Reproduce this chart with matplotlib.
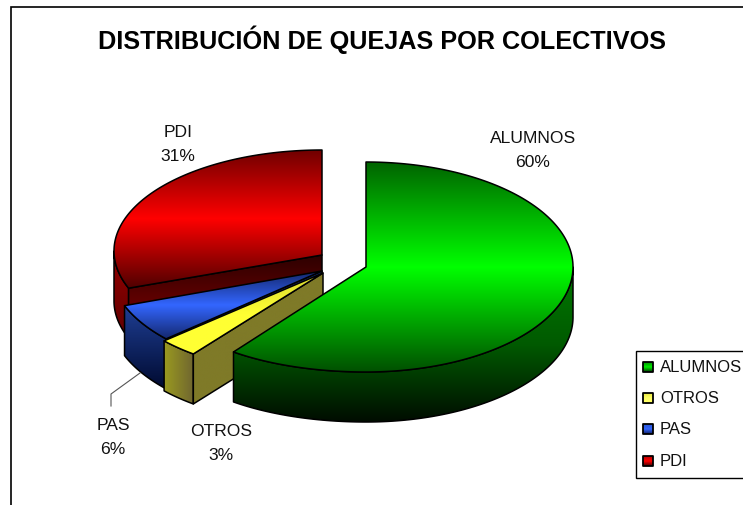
import numpy as np
import matplotlib
matplotlib.use("Agg")
import matplotlib.pyplot as plt
from matplotlib.colors import LinearSegmentedColormap
from matplotlib.patches import Polygon, Rectangle

plt.rcParams["font.family"] = ["Liberation Sans", "DejaVu Sans"]

titulo = "DISTRIBUCIÓN DE QUEJAS POR COLECTIVOS"
colectivos = ["ALUMNOS", "OTROS", "PAS", "PDI"]
porcentajes = [60, 3, 6, 31]

# pie geometry in pixels: rim centre x, y, radius x, radius y, left side stretch
DEPTH = 50
rims = {
    "ALUMNOS": (366, 268, 207, 105, 0.11),
    "OTROS": (315, 270, 207, 105, 0),
    "PAS": (317, 268, 207, 105, 0),
    "PDI": (322, 252, 208, 101, 0),
}
apices = {"ALUMNOS": (366, 268), "OTROS": (323, 274), "PAS": (322, 272), "PDI": (322, 256)}
etiquetas = {"ALUMNOS": (533, 150.5), "OTROS": (221, 443.5), "PAS": (113, 437.5), "PDI": (178, 144.5)}

top_cols = {
    "ALUMNOS": ["#006400", "#00ff00", "#005000"],
    "OTROS": ["#d8d830", "#ffff33", "#ffff33"],
    "PAS": ["#14286e", "#3366ff", "#14286e"],
    "PDI": ["#6e0000", "#ff0000", "#500000"],
}
side_cols = {
    "ALUMNOS": ["#007800", "#005a00", "#000c00"],
    "OTROS": ["#9a9a20", "#6f6530"],
    "PAS": ["#1f3f95", "#000a30"],
    "PDI": ["#950000", "#600000"],
}
cut_cols = {
    "OTROS": ["#7f7a28", "#7f7a28"],
    "PAS": ["#14286e", "#22408f"],
    "PDI": ["#2c0000", "#8a0000"],
}
leyenda_cols = {
    "ALUMNOS": ["#009000", "#00ee00", "#003000"],
    "OTROS": ["#e8e840", "#ffff66", "#ffff66"],
    "PAS": ["#2a55d0", "#3366ff", "#101f60"],
    "PDI": ["#b00000", "#ff0000", "#400000"],
}


def rim(nombre, a0, a1):
    # angles are clockwise from 12 o'clock, in degrees
    cx, cy, rx, ry, k = rims[nombre]
    t = np.radians(np.linspace(a0, a1, max(int(abs(a1 - a0)) * 2, 2)))
    sx = np.sin(t) * (1 + k * np.clip(-np.cos(t), 0, None) * (np.sin(t) < 0))
    return np.column_stack([cx + rx * sx, cy - ry * np.cos(t)])


def shade(ax, verts, colors, horizontal=False, zorder=1, lw=1.1):
    verts = np.asarray(verts)
    patch = Polygon(verts, closed=True, facecolor="none", edgecolor="black", lw=lw,
                    joinstyle="round", zorder=zorder + 0.5)
    ax.add_patch(patch)
    grad = np.linspace(0, 1, 256).reshape(-1, 1)
    if horizontal:
        grad = grad.T
    x0, y0 = verts.min(axis=0)
    x1, y1 = verts.max(axis=0)
    cmap = LinearSegmentedColormap.from_list("g", colors)
    im = ax.imshow(grad, cmap=cmap, extent=(x0, x1, y1, y0), aspect="auto",
                   interpolation="bilinear", zorder=zorder)
    im.set_clip_path(patch)


fig = plt.figure(figsize=(7.43, 5.06), dpi=100)
ax = fig.add_axes([0, 0, 1, 1])

# chart frame runs off the right and bottom of the picture
ax.add_patch(Rectangle((11, 8), 800, 600, facecolor="white", edgecolor="black", lw=1.2))

limites = np.concatenate([[0], np.cumsum(porcentajes)]) * 3.6
dibujo = [3, 2, 1, 0]  # back to front
z = 2
for i in dibujo:
    nombre = colectivos[i]
    c = np.array(apices[nombre], dtype=float)
    a0, a1 = limites[i], limites[i + 1]
    borde = rim(nombre, a0, a1)
    # outer wall: only the part of the rim that faces the viewer
    fr0, fr1 = max(a0, 90), min(a1, 270)
    if fr1 > fr0:
        arco = rim(nombre, fr0, fr1)
        pared = np.vstack([arco, arco[::-1] + [0, DEPTH]])
        shade(ax, pared, side_cols[nombre], horizontal=nombre == "OTROS", zorder=z)
        z += 1
    # cut wall on the leading edge
    if nombre in cut_cols:
        p = rim(nombre, a0, a0)[0]
        corte = [c, p, p + [0, DEPTH], c + [0, DEPTH]]
        shade(ax, corte, cut_cols[nombre], zorder=z)
        z += 1
    shade(ax, np.vstack([[c], borde]), top_cols[nombre], zorder=z)
    z += 1

# leader line for PAS
ax.plot([140, 111, 111], [374, 395, 407], color="#555555", lw=0.8, zorder=z)

ax.text(382, 40, titulo, ha="center", va="center", fontsize=18.2, fontweight="bold", color="black")

for nombre, pct in zip(colectivos, porcentajes):
    x, y = etiquetas[nombre]
    ax.text(x, y, f"{nombre}\n{pct}%", ha="center", va="center", fontsize=12.6, linespacing=1.8,
            color="#111111", zorder=z)

# legend
ax.add_patch(Rectangle((636, 352), 200, 127, facecolor="white", edgecolor="black", lw=1.0, zorder=z))
z += 1
for nombre, y in zip(colectivos, [368, 399, 430, 462]):
    m = [(643, y - 5), (653, y - 5), (653, y + 5), (643, y + 5)]
    shade(ax, m, leyenda_cols[nombre], zorder=z, lw=1.3)
    ax.text(660, y, nombre, ha="left", va="center", fontsize=12, color="#111111", zorder=z)

ax.set_xlim(0, 743)
ax.set_ylim(506, 0)
ax.axis("off")
fig.savefig("out.png", dpi=100, facecolor="white")
